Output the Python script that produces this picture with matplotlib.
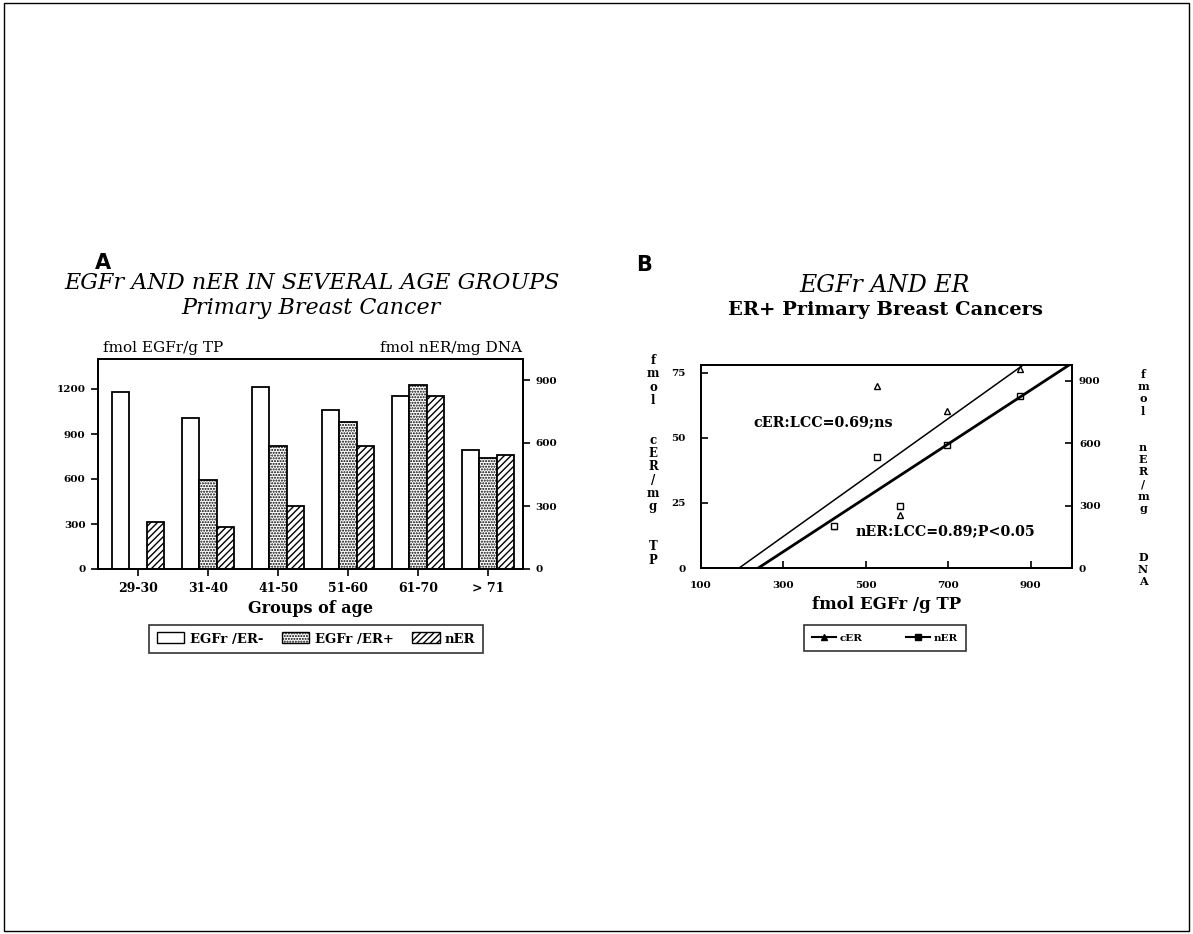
import numpy as np
import matplotlib
matplotlib.use("Agg")
import matplotlib.pyplot as plt
from matplotlib.patches import Rectangle
from matplotlib.lines import Line2D

# Panel A data
age_groups = ["29-30", "31-40", "41-50", "51-60", "61-70", "> 71"]
egfr_er_neg = [1178, 1008, 1211, 1059, 1151, 793]
egfr_er_pos = [0, 594, 820, 977, 1229, 742]
ner_values = [225, 201, 301, 587, 826, 541]

# Panel B data
cer_x = [527, 697, 583, 422, 873]
cer_y = [69.8, 60.5, 20.2, 16.3, 76.4]
ner_x = [527, 583, 697, 873, 422]
ner_y = [534, 299, 592, 828, 202]
cer_fit = (0.1132, -21.8)   # slope, intercept (left axis)
ner_fit = (1.293, -309.0)   # slope, intercept (right axis)

W, H = 1193, 934
fig = plt.figure(figsize=(W / 100, H / 100), dpi=100)

serif = "DejaVu Serif"


def fx(px):
    return px / W


def fy(py):
    return 1 - py / H


def style_ticks(ax, size=7.5):
    for lab in ax.get_xticklabels() + ax.get_yticklabels():
        lab.set_fontsize(size)
        lab.set_fontweight("bold")
        lab.set_family(serif)
    for s in ax.spines.values():
        s.set_linewidth(1.3)


# figure border
fig.patches.append(Rectangle((0.003, 0.003), 0.994, 0.994, transform=fig.transFigure,
                             fill=False, lw=1, ec="black"))

# ---------- Panel A ----------
axA = fig.add_axes([fx(98), fy(569), 425 / W, 210 / H])
axA2 = axA.twinx()
x = np.arange(len(age_groups))
w = 0.25
axA.bar(x - w, egfr_er_neg, w, color="white", edgecolor="black", lw=1.3)
axA.bar(x, egfr_er_pos, w, color="white", edgecolor="black", lw=1.3, hatch="......")
axA2.bar(x + w, ner_values, w, color="white", edgecolor="black", lw=1.3, hatch="/////")
axA.set_xlim(-0.57, 5.5)
axA.set_ylim(0, 1400)
axA2.set_ylim(0, 1000)
axA.set_yticks([0, 300, 600, 900, 1200])
axA2.set_yticks([0, 300, 600, 900])
axA.set_xticks(x)
axA.set_xticklabels(age_groups)
axA.tick_params(direction="out", length=5, width=1.2, pad=4)
axA2.tick_params(direction="out", length=5, width=1.2, pad=4)
style_ticks(axA)
style_ticks(axA2)
for lab in axA.get_xticklabels():
    lab.set_fontsize(9)
axA.set_xlabel("Groups of age", fontsize=11.5, fontweight="bold", family=serif, labelpad=4)

fig.text(fx(95), fy(263), "A", fontsize=15, fontweight="bold", family="DejaVu Sans",
         va="center", ha="left")
fig.text(fx(312), fy(283), "EGFr AND nER IN SEVERAL AGE GROUPS", fontsize=16,
         style="italic", family=serif, ha="center", va="center")
fig.text(fx(311), fy(308), "Primary Breast Cancer", fontsize=16, style="italic",
         family=serif, ha="center", va="center")
fig.text(fx(103), fy(348), "fmol EGFr/g TP", fontsize=11, family=serif, ha="left",
         va="center")
fig.text(fx(522), fy(348), "fmol nER/mg DNA", fontsize=11, family=serif, ha="right",
         va="center")

handlesA = [Rectangle((0, 0), 1, 1, fc="white", ec="black"),
            Rectangle((0, 0), 1, 1, fc="white", ec="black", hatch="......"),
            Rectangle((0, 0), 1, 1, fc="white", ec="black", hatch="/////")]
legA = fig.legend(handlesA, ["EGFr /ER-", "EGFr /ER+", "nER"], ncol=3,
                  loc="center", bbox_to_anchor=(fx(316), fy(639)), frameon=True,
                  fancybox=False, edgecolor="black", handlelength=2.1, handleheight=0.9,
                  handletextpad=0.4, columnspacing=1.4, borderpad=0.6, borderaxespad=0,
                  prop=dict(size=9.5, weight="bold", family=serif))
legA.get_frame().set_linewidth(1.2)

# ---------- Panel B ----------
axB = fig.add_axes([fx(701), fy(568), 371 / W, 203 / H])
axB2 = axB.twinx()
axB.set_xlim(100, 1000)
axB.set_ylim(0, 78)
axB2.set_ylim(0, 975)
axB.plot(cer_x, cer_y, ls="none", marker="^", ms=4, mfc="white", mec="black", mew=1)
axB2.plot(ner_x, ner_y, ls="none", marker="s", ms=4, mfc="white", mec="black", mew=1)
xs = np.array([100, 1000])
axB.plot(xs, cer_fit[0] * xs + cer_fit[1], color="black", lw=1.1)
axB2.plot(xs, ner_fit[0] * xs + ner_fit[1], color="black", lw=2.0)
axB.set_xticks([100, 300, 500, 700, 900])
axB.set_yticks([0, 25, 50, 75])
axB2.set_yticks([0, 300, 600, 900])
axB.tick_params(axis="x", direction="in", length=5, width=1.2, pad=9)
axB.tick_params(axis="y", direction="in", length=5, width=1.2, pad=11)
axB2.tick_params(direction="in", length=5, width=1.2, pad=5)
style_ticks(axB)
style_ticks(axB2)
axB.set_xlabel("fmol EGFr /g TP", fontsize=12, fontweight="bold", family=serif, labelpad=5)
axB.text(227, 56, "cER:LCC=0.69;ns", fontsize=10.3, fontweight="bold", family=serif,
         va="center", ha="left")
axB.text(475, 14.3, "nER:LCC=0.89;P<0.05", fontsize=10.3, fontweight="bold", family=serif,
         va="center", ha="left")

fig.text(fx(636), fy(265), "B", fontsize=15, fontweight="bold", family="DejaVu Sans",
         va="center", ha="left")
fig.text(fx(885), fy(285), "EGFr AND ER", fontsize=17, style="italic", family=serif,
         ha="center", va="center")
fig.text(fx(885), fy(310), "ER+ Primary Breast Cancers", fontsize=14, fontweight="bold",
         family=serif, ha="center", va="center")

left_lab = "f\nm\no\nl\n\n\nc\nE\nR\n/\nm\ng\n\n\nT\nP"
right_lab = "f\nm\no\nl\n\n\nn\nE\nR\n/\nm\ng\n\n\n\nD\nN\nA"
fig.text(fx(653), fy(354), left_lab, fontsize=8.5, fontweight="bold", family=serif,
         ha="center", va="top", linespacing=1.03)
fig.text(fx(1143), fy(369), right_lab, fontsize=8, fontweight="bold", family=serif,
         ha="center", va="top", linespacing=1.13)

handlesB = [Line2D([], [], color="black", lw=1.5, marker="^", ms=4),
            Line2D([], [], color="black", lw=1.5, marker="s", ms=4)]
legB = fig.legend(handlesB, ["cER", "nER"], ncol=2, loc="center",
                  bbox_to_anchor=(fx(885), fy(638)), frameon=True, fancybox=False,
                  edgecolor="black", handlelength=2.3, handletextpad=0.3,
                  columnspacing=4.2, borderpad=0.8, borderaxespad=0,
                  prop=dict(size=7.5, weight="bold", family=serif))
legB.get_frame().set_linewidth(1.2)

fig.savefig("out.png", dpi=100)
